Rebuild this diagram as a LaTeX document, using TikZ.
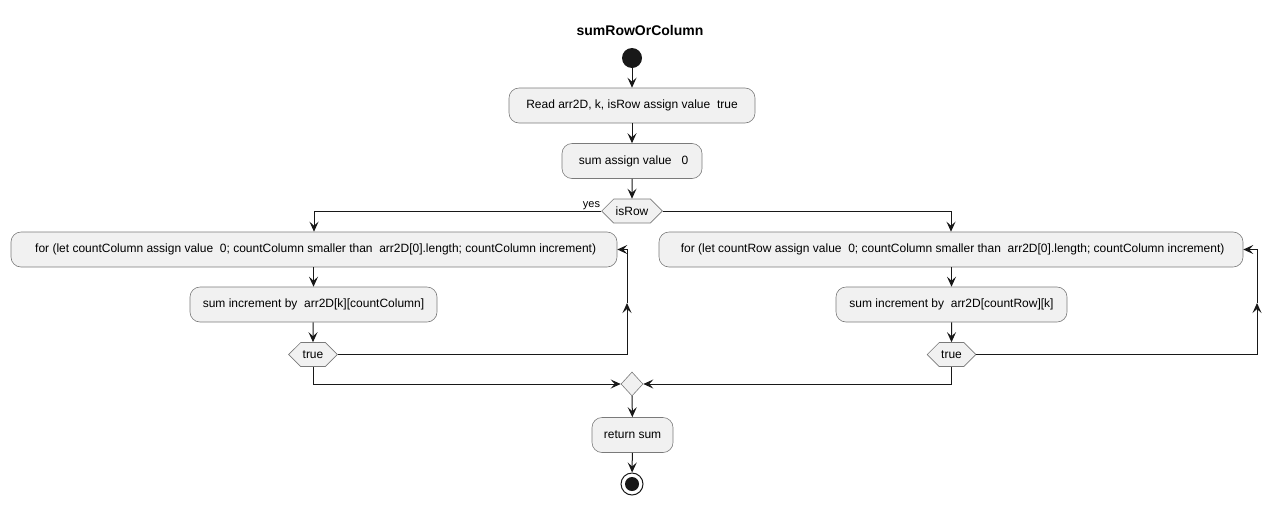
\documentclass[tikz,border=0pt]{standalone}
\usepackage{fontspec}
\setmainfont{Liberation Sans}
\usepackage{tikz}
\usetikzlibrary{arrows.meta}
\usetikzlibrary{shapes.geometric}
\usetikzlibrary{shapes.symbols}
\definecolor{umlfill}{HTML}{F1F1F1}
\definecolor{umlline}{HTML}{181818}
\definecolor{umlborder}{HTML}{7A7A7A}
\tikzset{act/.style = {draw=umlborder, fill=umlfill, rounded corners=10, line width=0.6,
    minimum height=35, inner sep=0, font=\fontsize{12}{14}\selectfont}}
\tikzset{hexa/.style = {draw=umlborder, fill=umlfill, shape=signal, signal to=west and east,
    line width=0.6, minimum height=24, inner xsep=2, inner ysep=0, font=\fontsize{12}{14}\selectfont}}
\tikzset{arr/.style = {draw=umlline, line width=1, -{Stealth[length=10, width=9, inset=4]}}}

\begin{document}
\begin{tikzpicture}[x=1pt, y=-1pt]
      \useasboundingbox (0, 0) rectangle (1281, 504);
      \node (title) at (640, 30) {\fontsize{14}{16}\selectfont\bfseries sumRowOrColumn};
      \node [fill=umlline, circle, inner sep = 0, minimum size = 20] (start) at (632, 58) {};

      \node [act, minimum width=246] (read) at (632, 105.5) {Read arr2D, k, isRow assign value\ \ true\ };
      \node [act, minimum width=140] (init) at (632, 161) {\ sum assign value\ \ \ 0};
      \node [hexa, minimum width=56] (isRow) at (632, 211) {isRow};
      \node [font=\fontsize{11}{13}\selectfont, inner sep=1, anchor=south east] (yes) at (isRow.west) {yes};

      % countColumn branch
      \node [act, minimum width=606] (forL) at (314, 249.5) {\ for (let countColumn assign value\ \ 0; countColumn smaller than\ \ arr2D[0].length; countColumn increment)};
      \node [act, minimum width=247] (incL) at (313.5, 304.5) {sum increment by\ \ arr2D[k][countColumn]};
      \node [hexa, minimum width=48] (trueL) at (313, 354.5) {true};
      \coordinate (backL) at (627, 303);

      % countRow branch
      \node [act, minimum width=584] (forR) at (951, 249.5) {\ for (let countRow assign value\ \ 0; countColumn smaller than\ \ arr2D[0].length; countColumn increment)};
      \node [act, minimum width=231] (incR) at (951.5, 304.5) {sum increment by\ \ arr2D[countRow][k]};
      \node [hexa, minimum width=48] (trueR) at (951.5, 354.5) {true};
      \coordinate (backR) at (1257, 303);

      \node [draw=umlborder, fill=umlfill, diamond, line width=0.6, inner sep=0, minimum width=22, minimum height=24] (merge) at (632, 384) {};
      \node [act, minimum width=81] (ret) at (632.5, 435) {return sum};
      \node [draw=umlline, fill=white, circle, line width=1, inner sep = 0, minimum size = 22] (stop) at (632, 484) {};
      \node [fill=umlline, circle, inner sep = 0, minimum size = 14] (stopIn) at (632, 484) {};

      \draw [arr] (start) -- (read);
      \draw [arr] (read) -- (init);
      \draw [arr] (init) -- (isRow);
      \draw [arr] (isRow.west) -| (forL.north);
      \draw [arr] (isRow.east) -| (forR.north);

      \draw [arr] (forL.south -| incL) -- (incL);
      \draw [arr] (incL.south -| trueL) -- (trueL);
      \draw [arr] (trueL.east) -| (backL);
      \draw [arr] (backL) |- (forL.east);

      \draw [arr] (forR.south -| incR) -- (incR);
      \draw [arr] (incR.south -| trueR) -- (trueR);
      \draw [arr] (trueR.east) -| (backR);
      \draw [arr] (backR) |- (forR.east);

      \draw [arr] (trueL.south) |- (merge.west);
      \draw [arr] (trueR.south) |- (merge.east);
      \draw [arr] (merge) -- (ret);
      \draw [arr] (ret) -- (stop);
    \end{tikzpicture}
\end{document}
